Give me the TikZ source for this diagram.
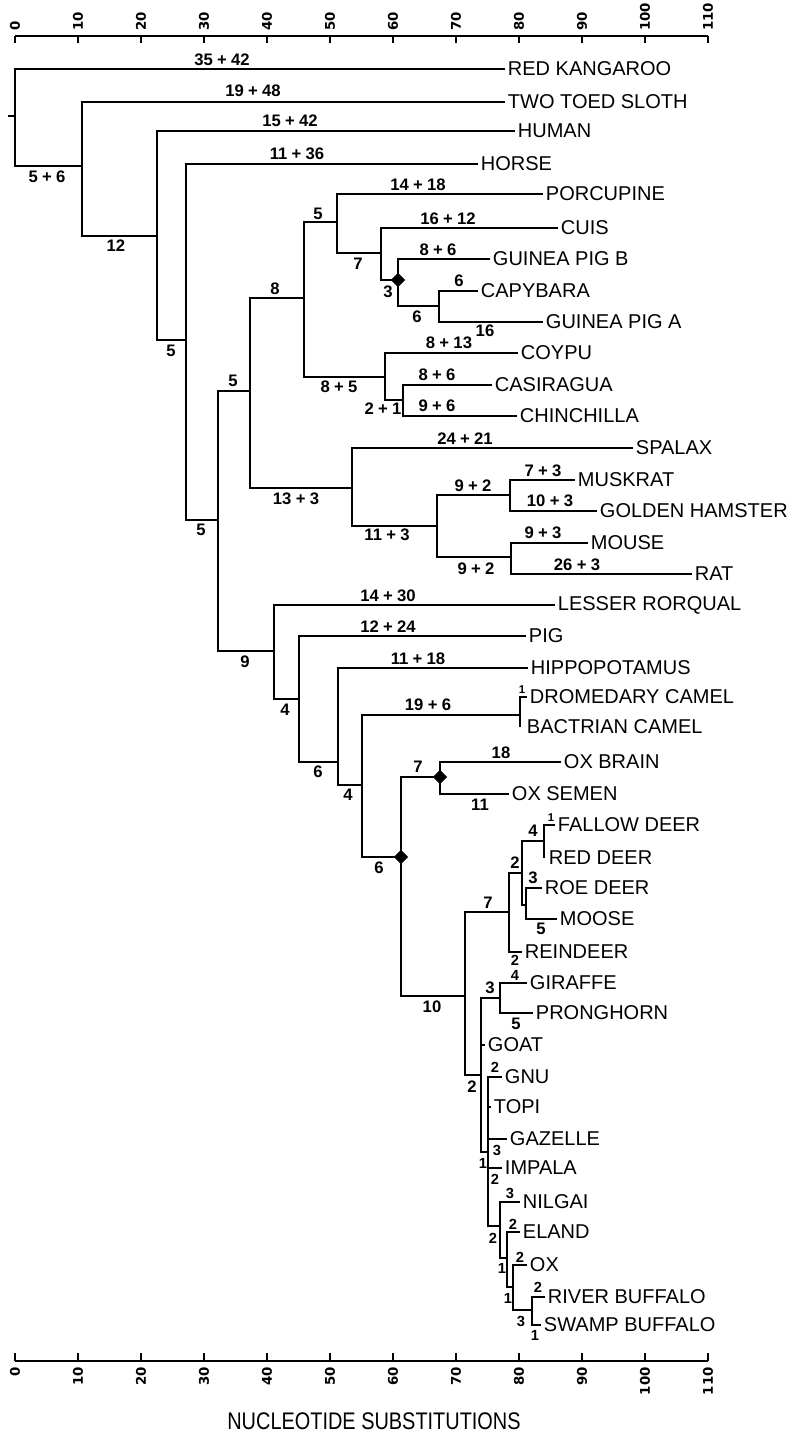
\documentclass[tikz,border=0pt]{standalone}
\usepackage{fontspec}
\setmainfont{Liberation Sans}
\newfontfamily\axf{DejaVu Sans}
\usetikzlibrary{shapes.geometric}
\newcommand{\pls}{\kern3.2pt+\kern3.2pt}
\begin{document}
\begin{tikzpicture}[x=0.75pt,y=-0.75pt,
  br/.style={line width=1.5pt},
  ax/.style={line width=1.5pt},
  leaf/.style={anchor=west,inner xsep=2pt,inner ysep=0pt,font=\fontsize{15}{18}\selectfont},
  bl/.style={inner sep=0pt,font=\bfseries\fontsize{12.5}{14}\selectfont},
  sbl/.style={inner sep=0pt,font=\bfseries\fontsize{11}{12}\selectfont},
  tbl/.style={inner sep=0pt,font=\bfseries\fontsize{8.5}{9}\selectfont},
  dmd/.style={diamond,fill=black,inner sep=0pt,minimum width=11pt,minimum height=11pt},
  axl/.style={rotate=90,inner sep=0pt,font=\axf\bfseries\fontsize{10}{11}\selectfont}
]
\useasboundingbox (0,0) rectangle (793,1437);

% ---------- axes ----------
\coordinate (ta0) at (15,36); \coordinate (ta1) at (708,36);
\coordinate (ba0) at (15,1361); \coordinate (ba1) at (708,1361);
\draw[ax] (ta0) -- (ta1);
\draw[ax] (ba0) -- (ba1);
\foreach \v in {0,10,...,110}{
  \draw[ax] (15+6.3*\v,36) -- ++(0,7);
  \node[axl,anchor=west] (tl\v) at (15+6.3*\v,31) {\v};
  \draw[ax] (15+6.3*\v,1361) -- ++(0,-8);
  \node[axl,anchor=east] (bl\v) at (15+6.3*\v,1367) {\v};
}
\node[font=\fontsize{18}{20}\selectfont,xscale=0.83] (xlab) at (374,1421) {NUCLEOTIDE SUBSTITUTIONS};

% ---------- internal nodes ----------
\coordinate (rt) at (8,116);
\coordinate (R) at (15,116);
\coordinate (n1) at (82,166);
\coordinate (n2) at (157,236);
\coordinate (n3) at (186,340);
\coordinate (n4) at (218,520);
\coordinate (n5) at (250,391);
\coordinate (n6) at (304,298);
\coordinate (n7) at (337,222);
\coordinate (n8) at (381,253);
\coordinate (d1) at (398,280);
\coordinate (n8b) at (439,306);
\coordinate (n9) at (385,377);
\coordinate (n9b) at (403,400);
\coordinate (n10) at (352,488);
\coordinate (n11) at (437,526);
\coordinate (n12a) at (510,495);
\coordinate (n12b) at (511,557);
\coordinate (n13) at (274,651);
\coordinate (n14) at (299,699);
\coordinate (n15) at (338,762);
\coordinate (n16) at (362,785);
\coordinate (n17) at (520,715);
\coordinate (bk) at (520,727);
\coordinate (d2) at (401,857);
\coordinate (d3) at (440,777);
\coordinate (n465) at (465,996);
\coordinate (n509) at (509,912);
\coordinate (n522) at (522,873);
\coordinate (n544) at (544,841);
\coordinate (rdk) at (544,858);
\coordinate (n526) at (526,905);
\coordinate (n481) at (481,1075);
\coordinate (n500g) at (500,998);
\coordinate (n488) at (488,1152);
\coordinate (n500) at (500,1226);
\coordinate (n507) at (507,1258);
\coordinate (n513) at (513,1287);
\coordinate (n532) at (532,1310);

% ---------- leaves ----------
\node[leaf] (kang) at (505,69) {RED KANGAROO};
\node[leaf] (sloth) at (505,102) {TWO TOED SLOTH};
\node[leaf] (human) at (515,131) {HUMAN};
\node[leaf] (horse) at (478,164) {HORSE};
\node[leaf] (porc) at (543,194) {PORCUPINE};
\node[leaf] (cuis) at (558,228) {CUIS};
\node[leaf] (gpb) at (490,259) {GUINEA PIG B};
\node[leaf] (capy) at (478,291) {CAPYBARA};
\node[leaf] (gpa) at (543,322) {GUINEA PIG A};
\node[leaf] (coypu) at (518,353) {COYPU};
\node[leaf] (casi) at (492,385) {CASIRAGUA};
\node[leaf] (chin) at (517,416) {CHINCHILLA};
\node[leaf] (spal) at (633,448) {SPALAX};
\node[leaf] (musk) at (575,480) {MUSKRAT};
\node[leaf] (ham) at (597,511) {GOLDEN HAMSTER};
\node[leaf] (mouse) at (588,543) {MOUSE};
\node[leaf] (rat) at (692,574) {RAT};
\node[leaf] (rorq) at (555,605) {LESSER RORQUAL};
\node[leaf] (pig) at (526,636) {PIG};
\node[leaf] (hippo) at (528,668) {HIPPOPOTAMUS};
\node[leaf] (drom) at (527,697) {DROMEDARY CAMEL};
\node[leaf] (bact) at (524,727) {BACTRIAN CAMEL};
\node[leaf] (oxb) at (561,762) {OX BRAIN};
\node[leaf] (oxs) at (509,794) {OX SEMEN};
\node[leaf] (fal) at (555,825) {FALLOW DEER};
\node[leaf] (red) at (546,858) {RED DEER};
\node[leaf] (roe) at (542,888) {ROE DEER};
\node[leaf] (moose) at (557,919) {MOOSE};
\node[leaf] (rein) at (522,952) {REINDEER};
\node[leaf] (gir) at (527,983) {GIRAFFE};
\node[leaf] (pron) at (533,1013) {PRONGHORN};
\node[leaf] (goat) at (485,1045) {GOAT};
\node[leaf] (gnu) at (502,1077) {GNU};
\node[leaf] (topi) at (491,1107) {TOPI};
\node[leaf] (gaz) at (507,1139) {GAZELLE};
\node[leaf] (imp) at (502,1168) {IMPALA};
\node[leaf] (nil) at (520,1202) {NILGAI};
\node[leaf] (eland) at (520,1232) {ELAND};
\node[leaf] (ox) at (527,1265) {OX};
\node[leaf] (riv) at (545,1297) {RIVER BUFFALO};
\node[leaf] (swa) at (541,1325) {SWAMP BUFFALO};

% ---------- branches ----------
\draw[br] (rt) -- (R);
\draw[br] (kang.west) -| (R) |- (n1);
\draw[br] (sloth.west) -| (n1) |- (n2);
\draw[br] (human.west) -| (n2) |- (n3);
\draw[br] (horse.west) -| (n3) |- (n4);
\draw[br] (n5) -| (n4) |- (n13);
\draw[br] (n6) -| (n5) |- (n10);
\draw[br] (n7) -| (n6) |- (n9);
\draw[br] (porc.west) -| (n7) |- (n8);
\draw[br] (cuis.west) -| (n8) |- (d1);
\draw[br] (gpb.west) -| (d1) |- (n8b);
\draw[br] (capy.west) -| (n8b) |- (gpa.west);
\draw[br] (coypu.west) -| (n9) |- (n9b);
\draw[br] (casi.west) -| (n9b) |- (chin.west);
\draw[br] (spal.west) -| (n10) |- (n11);
\draw[br] (n12a) -| (n11) |- (n12b);
\draw[br] (musk.west) -| (n12a) |- (ham.west);
\draw[br] (mouse.west) -| (n12b) |- (rat.west);
\draw[br] (rorq.west) -| (n13) |- (n14);
\draw[br] (pig.west) -| (n14) |- (n15);
\draw[br] (hippo.west) -| (n15) |- (n16);
\draw[br] (n17) -| (n16) |- (d2);
\draw[br] (drom.west) -| (n17) -- (bk);
\draw[br] (d3) -| (d2) |- (n465);
\draw[br] (oxb.west) -| (d3) |- (oxs.west);
\draw[br] (n509) -| (n465) |- (n481);
\draw[br] (n522) -| (n509) |- (rein.west);
\draw[br] (n544) -| (n522) |- (n526);
\draw[br] (fal.west) -| (n544) -- (rdk);
\draw[br] (roe.west) -| (n526) |- (moose.west);
\draw[br] (n500g) -| (n481) |- (n488);
\draw[br] (n481 |- goat.west) -- (goat.west);
\draw[br] (gir.west) -| (n500g) |- (pron.west);
\draw[br] (gnu.west) -| (n488) |- (n500);
\draw[br] (n488 |- topi.west) -- (topi.west);
\draw[br] (n488 |- gaz.west) -- (gaz.west);
\draw[br] (n488 |- imp.west) -- (imp.west);
\draw[br] (nil.west) -| (n500) |- (n507);
\draw[br] (eland.west) -| (n507) |- (n513);
\draw[br] (ox.west) -| (n513) |- (n532);
\draw[br] (riv.west) -| (n532) |- (swa.west);

\node[dmd] (dm1) at (d1) {};
\node[dmd] (dm2) at (d2) {};
\node[dmd] (dm3) at (d3) {};

% ---------- branch labels ----------
\node[bl] (b1) at (222,60) {35\pls42};
\node[bl] (b2) at (253,91) {19\pls48};
\node[bl] (b3) at (290,121) {15\pls42};
\node[bl] (b4) at (297,154) {11\pls36};
\node[bl] (b5) at (47,177) {5\pls6};
\node[bl] (b6) at (116,246) {12};
\node[bl] (b7) at (171,351) {5};
\node[bl] (b8) at (418,185) {14\pls18};
\node[bl] (b9) at (318,214) {5};
\node[bl] (b10) at (448,219) {16\pls12};
\node[bl] (b11) at (358,264) {7};
\node[bl] (b12) at (438,250) {8\pls6};
\node[bl] (b13) at (388,292) {3};
\node[bl] (b14) at (459,281) {6};
\node[bl] (b15) at (417,317) {6};
\node[bl] (b16) at (485,331) {16};
\node[bl] (b17) at (275,289) {8};
\node[bl] (b18) at (449,343) {8\pls13};
\node[bl] (b19) at (339,387) {8\pls5};
\node[bl] (b20) at (437,375) {8\pls6};
\node[bl] (b21) at (383,409) {2\pls1};
\node[bl] (b22) at (437,406) {9\pls6};
\node[bl] (b23) at (233,381) {5};
\node[bl] (b24) at (201,530) {5};
\node[bl] (b25) at (296,499) {13\pls3};
\node[bl] (b26) at (465,439) {24\pls21};
\node[bl] (b27) at (387,535) {11\pls3};
\node[bl] (b28) at (473,486) {9\pls2};
\node[bl] (b29) at (543,471) {7\pls3};
\node[bl] (b30) at (550,501) {10\pls3};
\node[bl] (b31) at (543,533) {9\pls3};
\node[bl] (b32) at (476,569) {9\pls2};
\node[bl] (b33) at (577,565) {26\pls3};
\node[bl] (b34) at (388,596) {14\pls30};
\node[bl] (b35) at (245,662) {9};
\node[bl] (b36) at (388,627) {12\pls24};
\node[bl] (b37) at (285,710) {4};
\node[bl] (b38) at (418,659) {11\pls18};
\node[bl] (b39) at (318,772) {6};
\node[bl] (b40) at (428,705) {19\pls6};
\node[bl] (b41) at (348,795) {4};
\node[bl] (b42) at (379,868) {6};
\node[bl] (b43) at (418,767) {7};
\node[bl] (b44) at (501,753) {18};
\node[bl] (b45) at (480,805) {11};
\node[bl] (b46) at (488,903) {7};
\node[bl] (b47) at (432,1007) {10};
\node[bl] (b48) at (515,863) {2};
\node[bl] (b49) at (533,831) {4};
\node[bl] (b50) at (533,878) {3};
\node[bl] (b51) at (541,929) {5};
\node[sbl] (b52) at (515,960) {2};
\node[sbl] (b53) at (515,975) {4};
\node[bl] (b54) at (516,1024) {5};
\node[bl] (b55) at (490,988) {3};
\node[bl] (b56) at (472,1087) {2};
\node[sbl] (b57) at (495,1067) {2};
\node[sbl] (b58) at (497,1150) {3};
\node[sbl] (b59) at (483,1163) {1};
\node[sbl] (b60) at (495,1179) {2};
\node[sbl] (b61) at (493,1238) {2};
\node[sbl] (b62) at (510,1193) {3};
\node[sbl] (b63) at (502,1268) {1};
\node[sbl] (b64) at (513,1224) {2};
\node[sbl] (b65) at (508,1298) {1};
\node[sbl] (b66) at (520,1257) {2};
\node[sbl] (b67) at (521,1321) {3};
\node[sbl] (b68) at (538,1287) {2};
\node[sbl] (b69) at (535,1335) {1};
\node[tbl] (b70) at (522,690) {1};
\node[tbl] (b71) at (551,818) {1};
\end{tikzpicture}
\end{document}
